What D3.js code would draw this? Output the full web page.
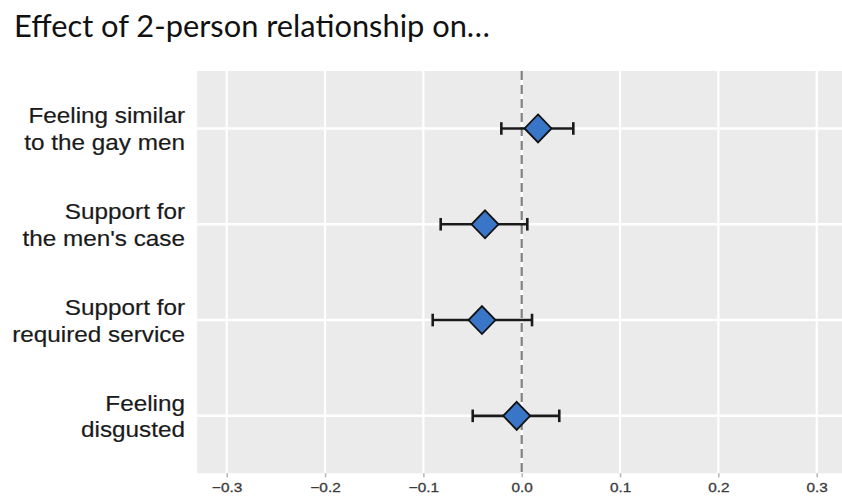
<!DOCTYPE html>
<html>
<head>
<meta charset="utf-8">
<script src="https://cdn.jsdelivr.net/npm/d3@7/dist/d3.min.js"></script>
<style>
  html, body { margin: 0; padding: 0; background: #ffffff; }
  svg { display: block; }
</style>
</head>
<body>
<script>
// ---- data ----
const categories = [
  ["Feeling similar", "to the gay men"],
  ["Support for", "the men's case"],
  ["Support for", "required service"],
  ["Feeling", "disgusted"]
];
const estimates = [0.0166, -0.0373, -0.0404, -0.0051];
const lowerCI   = [-0.0207, -0.0824, -0.0905, -0.0498];
const upperCI   = [0.0525, 0.0057, 0.0105, 0.0382];
const xTicks    = [-0.3, -0.2, -0.1, 0.0, 0.1, 0.2, 0.3];
const xTickLabels = ["\u22120.3", "\u22120.2", "\u22120.1", "0.0", "0.1", "0.2", "0.3"];
const titleText = "Effect of 2-person relationship on\u2026";

// ---- layout ----
const W = 842, H = 496;
const panel = { left: 197.2, right: 846.2, top: 71, bottom: 473.3 };

const svg = d3.select("body").append("svg")
  .attr("width", W).attr("height", H);

const keys = categories.map((c, i) => "c" + i);
const x = d3.scaleLinear().domain([-0.33, 0.33]).range([panel.left, panel.right]);
const y = d3.scalePoint().domain(keys).range([panel.top, panel.bottom]).padding(0.6);

// panel background
svg.append("rect")
  .attr("x", panel.left).attr("y", panel.top)
  .attr("width", panel.right - panel.left).attr("height", panel.bottom - panel.top)
  .attr("fill", "#ebebeb");

// vertical gridlines
svg.append("g").selectAll("line").data(xTicks).join("line")
  .attr("x1", d => x(d)).attr("x2", d => x(d))
  .attr("y1", panel.top).attr("y2", panel.bottom)
  .attr("stroke", "#ffffff").attr("stroke-width", 2.2);

// horizontal gridlines
svg.append("g").selectAll("line").data(keys).join("line")
  .attr("x1", panel.left).attr("x2", panel.right)
  .attr("y1", d => y(d)).attr("y2", d => y(d))
  .attr("stroke", "#ffffff").attr("stroke-width", 2.5);

// x axis (ticks + labels)
const xAxis = d3.axisBottom(x).tickValues(xTicks)
  .tickFormat((d, i) => xTickLabels[i]).tickSize(4).tickPadding(5);
const gx = svg.append("g").attr("transform", `translate(0,${panel.bottom})`).call(xAxis);
gx.select(".domain").remove();
gx.selectAll(".tick line").attr("stroke", "#b3b3b3").attr("stroke-width", 1.5);
gx.selectAll(".tick text")
  .attr("fill", "#3a3a3a")
  .attr("font-family", "'Liberation Sans', Arial, sans-serif")
  .attr("font-size", 13)
  .attr("stroke", "#3a3a3a").attr("stroke-width", 0.3)
  .attr("dy", null)
  .attr("y", 0)
  .attr("transform", "translate(0,18.6) scale(1.18,1)");

// zero reference line
svg.append("line")
  .attr("x1", x(0)).attr("x2", x(0))
  .attr("y1", panel.top).attr("y2", panel.bottom)
  .attr("stroke", "#808080").attr("stroke-width", 2.2)
  .attr("stroke-dasharray", "9,5");

// y labels
const gy = svg.append("g");
keys.forEach((k, i) => {
  const t = gy.append("text")
    .attr("transform", `translate(185,${y(k)}) scale(1.08,1)`)
    .attr("text-anchor", "end")
    .attr("font-family", "'Liberation Sans', Arial, sans-serif")
    .attr("font-size", 22.5)
    .attr("fill", "#1a1a1a")
    .attr("stroke", "#1a1a1a").attr("stroke-width", 0.2);
  t.append("tspan").attr("x", 0).attr("y", -5).text(categories[i][0]);
  t.append("tspan").attr("x", 0).attr("y", 21.5).text(categories[i][1]);
});

// error bars
const capH = 6.3;
const eb = svg.append("g").attr("stroke", "#1a1a1a").attr("stroke-width", 2.6);
eb.selectAll("line.bar").data(keys).join("line").attr("class", "bar")
  .attr("x1", (d, i) => x(lowerCI[i])).attr("x2", (d, i) => x(upperCI[i]))
  .attr("y1", d => y(d)).attr("y2", d => y(d));
eb.selectAll("line.capl").data(keys).join("line").attr("class", "capl")
  .attr("x1", (d, i) => x(lowerCI[i])).attr("x2", (d, i) => x(lowerCI[i]))
  .attr("y1", d => y(d) - capH).attr("y2", d => y(d) + capH);
eb.selectAll("line.capu").data(keys).join("line").attr("class", "capu")
  .attr("x1", (d, i) => x(upperCI[i])).attr("x2", (d, i) => x(upperCI[i]))
  .attr("y1", d => y(d) - capH).attr("y2", d => y(d) + capH);

// diamonds
const dh = 13.5, dv = 14;
svg.append("g").selectAll("path").data(keys).join("path")
  .attr("transform", (d, i) => `translate(${x(estimates[i])},${y(d)})`)
  .attr("d", `M0,${-dv}L${dh},0L0,${dv}L${-dh},0Z`)
  .attr("fill", "#3a76c8")
  .attr("stroke", "#111111").attr("stroke-width", 1.8)
  .attr("stroke-linejoin", "miter");

// title
svg.append("text")
  .attr("x", 14).attr("y", 36.5)
  .attr("font-family", "Lato, 'Open Sans', sans-serif")
  .attr("font-size", 31)
  .attr("fill", "#111111")
  .attr("textLength", 476)
  .attr("lengthAdjust", "spacingAndGlyphs")
  .text(titleText);
</script>
</body>
</html>
